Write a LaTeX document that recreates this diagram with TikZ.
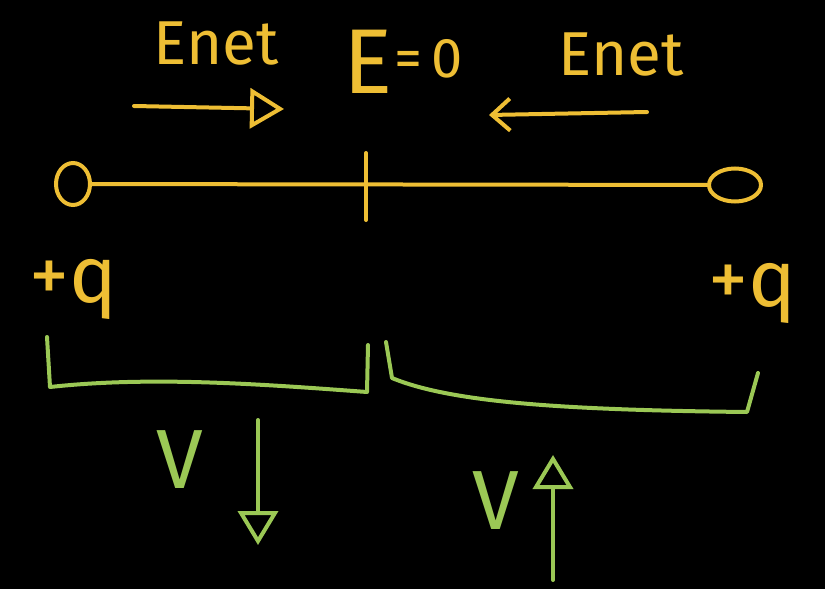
\documentclass[tikz,border=0pt]{standalone}
\usepackage{fontspec}
\setmainfont{Fira Sans}
\usetikzlibrary{arrows.meta,shapes.geometric,positioning}

\definecolor{chalkyellow}{RGB}{238,190,52}
\definecolor{chalkgreen}{RGB}{155,200,85}

\tikzset{
  chalk/.style={line width=4pt,line cap=round,line join=round},
  ylw/.style={chalk,draw=chalkyellow},
  grn/.style={chalk,draw=chalkgreen},
  charge/.style={ellipse,draw=chalkyellow,line width=4pt,inner sep=0pt},
  lbl/.style={inner sep=0pt,text=chalkyellow},
  vlbl/.style={inner sep=0pt,text=chalkgreen,font=\fontsize{84}{84}\selectfont},
  openhead/.style={-{Triangle[open,length=34pt,width=40pt]}},
  barbhead/.style={-{Straight Barb[length=18pt,width=32pt]}}
}

\begin{document}
\begin{tikzpicture}[x=1pt,y=-1pt]
  \fill[black] (0,0) rectangle (825,589);
  \useasboundingbox (0,0) rectangle (825,589);

  % field labels
  \node[lbl,font=\fontsize{62}{62}\selectfont] (enetL) at (216,44) {Enet};
  \node[lbl,anchor=base west] (ezero) at (343,93) {{\fontsize{92}{92}\selectfont E}\,\raisebox{16pt}{\fontsize{56}{56}\selectfont =\,0}};
  \node[lbl,font=\fontsize{62}{62}\selectfont] (enetR) at (621,55) {Enet};

  % field arrows
  \coordinate (eL1) at (134,106);
  \coordinate (eL2) at (284,109);
  \coordinate (eR1) at (647,112);
  \coordinate (eR2) at (489,115);
  \draw[ylw,openhead] (eL1) -- (eL2);
  \draw[ylw,barbhead] (eR1) -- (eR2);

  % the two charges and the line between them
  \node[charge,minimum width=34pt,minimum height=42pt] (qL) at (73,184) {};
  \node[charge,minimum width=52pt,minimum height=33pt] (qR) at (735,185) {};
  \draw[ylw] (qL) -- (qR);
  \coordinate (tickT) at (366,153);
  \coordinate (tickB) at (366,220);
  \draw[ylw] (tickT) -- (tickB);

  \node[lbl,font=\fontsize{80}{80}\selectfont] (plusL) at (73,289) {+q};
  \node[lbl,font=\fontsize{80}{80}\selectfont] (plusR) at (752,293) {+q};

  % brackets
  \coordinate (bl1) at (47,337);
  \coordinate (bl2) at (50,387);
  \coordinate (bl3) at (367,392);
  \coordinate (bl4) at (368,345);
  \draw[grn] (bl1) -- (bl2) .. controls (150,376) and (260,384) .. (bl3) -- (bl4);
  \coordinate (br1) at (386,342);
  \coordinate (br2) at (392,378);
  \coordinate (br3) at (747,412);
  \coordinate (br4) at (758,373);
  \draw[grn] (br1) -- (br2) .. controls (450,402) and (560,410) .. (br3) -- (br4);

  % potential
  \node[vlbl] (vL) at (180,460) {V};
  \node[vlbl] (vR) at (496,501) {V};
  \coordinate (vdT) at (258,420);
  \coordinate (vdB) at (258,545);
  \coordinate (vuB) at (553,580);
  \coordinate (vuT) at (553,455);
  \draw[grn,openhead] (vdT) -- (vdB);
  \draw[grn,openhead] (vuB) -- (vuT);
\end{tikzpicture}
\end{document}
